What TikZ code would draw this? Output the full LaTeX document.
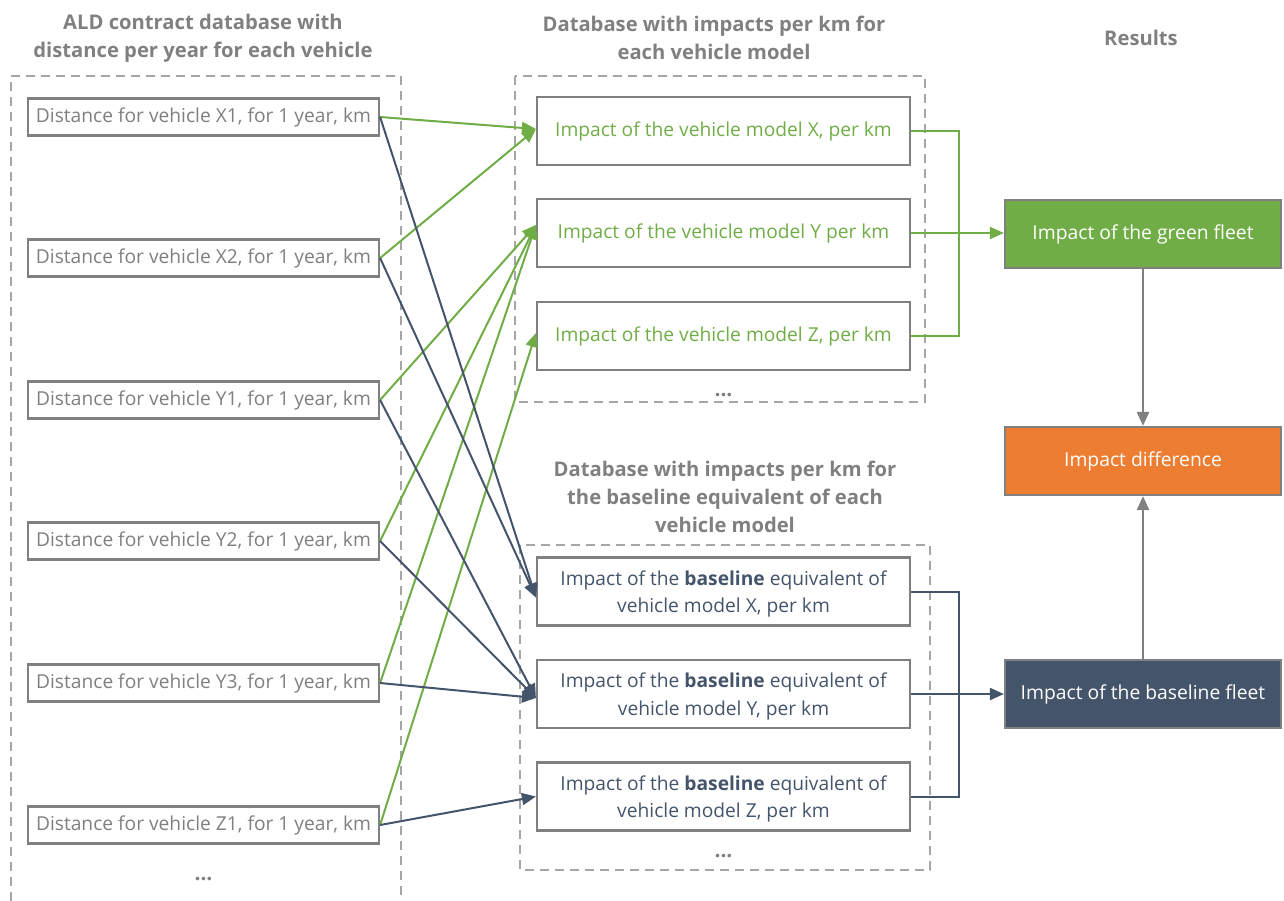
\documentclass[tikz,border=0pt]{standalone}
\usepackage{fontspec}
\setmainfont{Open Sans}
\usetikzlibrary{arrows.meta}
\definecolor{cgreen}{HTML}{70AD47}
\definecolor{cdark}{HTML}{44546A}
\definecolor{corange}{HTML}{ED7D31}
\definecolor{ctext}{HTML}{7F7F7F}
\definecolor{cborder}{HTML}{808080}
\definecolor{cdash}{HTML}{A6A6A6}
\tikzset{
  distbox/.style={draw=cborder, line width=2.2pt, minimum width=351pt, minimum height=37pt, inner sep=0pt, text=ctext, font=\fontsize{19.2}{22}\selectfont},
  modelbox/.style={draw=cborder, line width=2.2pt, minimum width=373pt, minimum height=68pt, inner sep=0pt, align=center, font=\fontsize{19.2}{27.5}\selectfont},
  resbox/.style={draw=cborder, line width=2.2pt, minimum width=276pt, minimum height=68pt, inner sep=0pt, text=white, font=\fontsize{19.3}{22}\selectfont},
  title/.style={align=center, text=cborder, font=\fontsize{20.2}{28}\selectfont\bfseries},
  dotsnode/.style={text=ctext, font=\fontsize{21}{22}\selectfont\bfseries},
  dbframe/.style={draw=cdash, line width=2pt, dash pattern=on 9pt off 6pt},
  garrow/.style={draw=cgreen, line width=2pt, -{Triangle[length=14pt,width=12pt]}},
  darrow/.style={draw=cdark, line width=2pt, -{Triangle[length=14pt,width=12pt]}},
  gline/.style={draw=cgreen, line width=2pt},
  dline/.style={draw=cdark, line width=2pt},
  grarrow/.style={draw=cborder, line width=2.4pt, -{Triangle[length=14pt,width=12pt]}},
}
\begin{document}
\begin{tikzpicture}[x=1pt,y=-1pt]
\useasboundingbox (0,0) rectangle (1284,900);
% frames
\draw[dbframe] (401,910) -- (401,76) -- (11,76) -- (11,910);
\draw[dbframe] (515,76) rectangle (925,402);
\draw[dbframe] (520,545) rectangle (930,870);
% titles
\node[title] (t1) at (203,38) {ALD contract database with\\distance per year for each vehicle};
\node[title] (t2) at (714,38) {Database with impacts per km for\\each vehicle model};
\node[title] (t3) at (1141,38) {Results};
\node[title] (t4) at (725,497) {Database with impacts per km for\\the baseline equivalent of each\\vehicle model};
% left boxes
\node[distbox] (x1) at (203.5,117) {Distance for vehicle X1, for 1 year, km};
\node[distbox] (x2) at (203.5,258) {Distance for vehicle X2, for 1 year, km};
\node[distbox] (y1) at (203.5,400) {Distance for vehicle Y1, for 1 year, km};
\node[distbox] (y2) at (203.5,541) {Distance for vehicle Y2, for 1 year, km};
\node[distbox] (y3) at (203.5,683) {Distance for vehicle Y3, for 1 year, km};
\node[distbox] (z1) at (203.5,825) {Distance for vehicle Z1, for 1 year, km};
\node[dotsnode] (d1) at (203.5,879) {...};
% green model boxes
\node[modelbox, text=cgreen] (gx) at (723.5,131) {\raisebox{-1.5pt}{Impact of the vehicle model X, per km}};
\node[modelbox, text=cgreen] (gy) at (723.5,233) {\raisebox{-1.5pt}{Impact of the vehicle model Y per km}};
\node[modelbox, text=cgreen] (gz) at (723.5,336) {\raisebox{-1.5pt}{Impact of the vehicle model Z, per km}};
\node[dotsnode] (d2) at (723.5,395) {...};
% baseline model boxes
\node[modelbox, text=cdark, text depth=0pt] (bx) at (723.5,591.5) {Impact of the \textbf{baseline} equivalent of\\vehicle model X, per km};
\node[modelbox, text=cdark, text depth=0pt] (by) at (723.5,694) {Impact of the \textbf{baseline} equivalent of\\vehicle model Y, per km};
\node[modelbox, text=cdark, text depth=0pt] (bz) at (723.5,796.5) {Impact of the \textbf{baseline} equivalent of\\vehicle model Z, per km};
\node[dotsnode] (d3) at (723.5,856) {...};
% results
\node[resbox, fill=cgreen] (rg) at (1143,234) {Impact of the green fleet};
\node[resbox, fill=corange] (rd) at (1143,461) {Impact difference};
\node[resbox, fill=cdark] (rb) at (1143,694) {Impact of the baseline fleet};
% green arrows
\draw[garrow] (x1.east) -- ([yshift=2pt]gx.west);
\draw[garrow] (x2.east) -- ([yshift=2pt]gx.west);
\draw[garrow] (y1.east) -- ([yshift=8pt]gy.west);
\draw[garrow] (y2.east) -- ([yshift=8pt]gy.west);
\draw[garrow] (y3.east) -- ([yshift=8pt]gy.west);
\draw[garrow] (z1.east) -- ([yshift=3pt]gz.west);
% dark arrows
\draw[darrow] (x1.east) -- ([yshift=-6pt]bx.west);
\draw[darrow] (x2.east) -- ([yshift=-6pt]bx.west);
\draw[darrow] (y1.east) -- ([yshift=-4pt]by.west);
\draw[darrow] (y2.east) -- ([yshift=-4pt]by.west);
\draw[darrow] (y3.east) -- ([yshift=-4pt]by.west);
\draw[darrow] (z1.east) -- (bz.west);
% joins
\coordinate (gj) at (959,233);
\coordinate (bj) at (959,694);
\draw[gline] (gx.east) -| (gj) |- (gz.east);
\draw[garrow] (gy.east) -- (gy.east -| rg.west);
\draw[dline] (bx.east) -| (bj) |- (bz.east);
\draw[darrow] (by.east) -- (rb.west);
% result arrows
\draw[grarrow] (rg.south) -- (rd.north);
\draw[grarrow] (rb.north) -- (rd.south);
\end{tikzpicture}
\end{document}
